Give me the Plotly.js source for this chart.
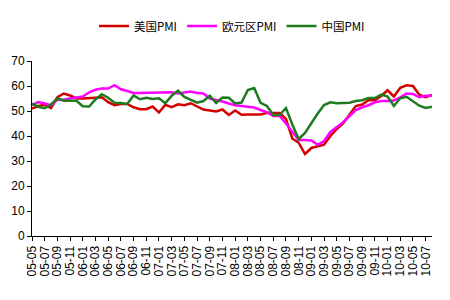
<!DOCTYPE html>
<html>
<head>
<meta charset="utf-8">
<script src="https://cdn.plot.ly/plotly-3.0.1.min.js"></script>
<style>html,body{margin:0;padding:0;background:#fff;}#chart{width:450px;height:300px;}</style>
</head>
<body>
<div id="chart"></div>
<script>
// Months 2005-05 .. 2010-08
const months = [];
for (let y = 2005; y <= 2010; y++) {
  for (let m = 1; m <= 12; m++) {
    if (y === 2005 && m < 5) continue;
    if (y === 2010 && m > 8) continue;
    months.push(String(y).slice(2) + '-' + String(m).padStart(2, '0'));
  }
}
const usPMI = [51, 52, 52.5, 51.2, 55.5, 57, 56.2, 55,
  55, 55, 55.3, 55.5, 53.5, 52.3, 52.8, 52.8, 51.5, 50.7, 50.7, 51.8,
  49.4, 52.5, 51.5, 52.7, 52.3, 53.1, 51.8, 50.6, 50.2, 49.8, 50.6, 48.4,
  50.2, 48.5, 48.6, 48.5, 48.6, 49.2, 49.2, 49.2, 46.8, 39, 37.3, 32.8,
  35.2, 35.8, 36.5, 40, 42.8, 45, 48.5, 52, 52.6, 54.3, 54.3, 56,
  58.3, 55.8, 59.3, 60.3, 60, 56.5, 55.5, 56.4];
const euPMI = [52.3, 53.6, 53, 52.3, 54.5, 54.5, 55, 55.5,
  55.8, 57.5, 58.5, 59, 59, 60.3, 58.7, 58, 57.2, 57.2, 57.2, 57.2,
  57.2, 57.2, 57.5, 57, 57.5, 57.8, 57.2, 57, 55, 54.5, 53.8, 53,
  52.3, 52, 51.7, 51.4, 50.4, 49.5, 48, 48, 45, 41.6, 38.4, 38.4,
  38.2, 36.5, 38, 41.6, 43.5, 45.5, 48, 50.4, 51.5, 52.3, 53.5, 54,
  54, 54.2, 55.5, 57, 56.8, 55.5, 56.1, 56.1];
const cnPMI = [52.9, 51.7, 51.1, 52.6, 55.1, 54.1, 54.1, 54.1,
  51.9, 51.8, 54.6, 56.7, 55.3, 53.3, 53.2, 52.8, 56.2, 54.7, 55.3, 54.8,
  55.1, 53.1, 56.1, 58.1, 55.6, 54.5, 53.3, 54.0, 56.1, 53.2, 55.4, 55.3,
  53.0, 53.4, 58.4, 59.2, 53.3, 52.0, 48.4, 48.4, 51.2, 44.6, 38.8, 41.2,
  45.3, 49.0, 52.4, 53.5, 53.1, 53.2, 53.3, 54.0, 54.3, 55.2, 55.2, 56.6,
  55.8, 52.0, 55.1, 55.7, 53.9, 52.1, 51.2, 51.7];
const seriesNames = ['美国PMI', '欧元区PMI', '中国PMI'];
const seriesColors = ['#D40000', '#FF00FF', '#1E7B1E'];

const idx = months.map((_, i) => i);
const tickIdx = idx.filter(i => i % 2 === 0);
const tickText = tickIdx.map(i => months[i]);

const data = [usPMI, euPMI, cnPMI].map((vals, k) => ({
  x: idx, y: vals, type: 'scatter', mode: 'lines', name: seriesNames[k],
  line: {color: seriesColors[k], width: 2.5}
}));

const layout = {
  width: 450, height: 300,
  margin: {l: 32, r: 18, t: 52, b: 64},
  paper_bgcolor: '#ffffff', plot_bgcolor: '#ffffff',
  showlegend: true,
  legend: {orientation: 'h', x: 0.5, xanchor: 'center', y: 1.2, yanchor: 'middle',
    font: {family: 'Noto Sans CJK SC', size: 11.5, color: '#000'}, itemwidth: 30, tracegroupgap: 0},
  xaxis: {range: [0, 63], tickvals: tickIdx, ticktext: tickText, tickangle: -90,
    showgrid: false, zeroline: false, showline: true, linecolor: '#000', linewidth: 1,
    ticks: 'outside', ticklen: 4, tickcolor: '#000',
    tickfont: {family: 'Liberation Sans, Arial', size: 12, color: '#000'}},
  yaxis: {range: [0, 70], dtick: 10, showgrid: false, zeroline: false, showline: true,
    linecolor: '#000', linewidth: 1, ticks: 'outside', ticklen: 4, tickcolor: '#000',
    tickfont: {family: 'Liberation Sans, Arial', size: 12, color: '#000'}}
};
Plotly.newPlot('chart', data, layout, {displayModeBar: false, staticPlot: true});
</script>
</body>
</html>
